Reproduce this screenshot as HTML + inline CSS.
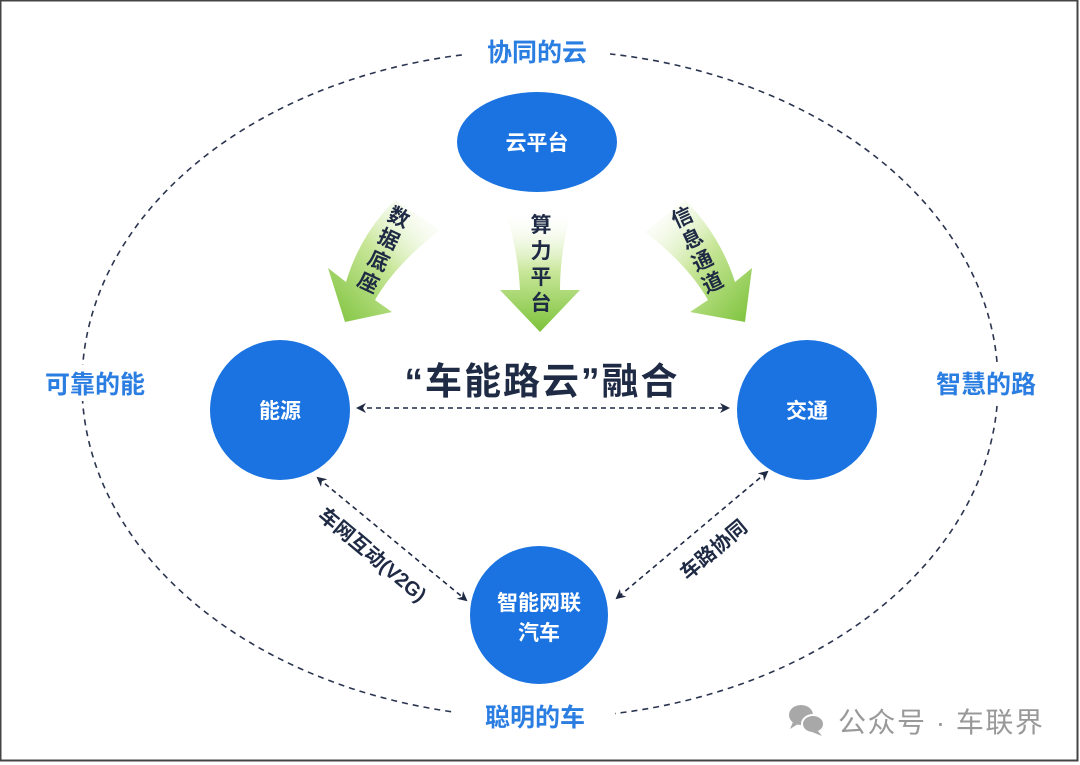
<!DOCTYPE html>
<html><head><meta charset="utf-8"><style>
html,body{margin:0;padding:0;background:#fff}
svg{display:block}
text{font-family:"Liberation Sans","Noto Sans CJK SC",sans-serif}
</style></head><body>
<svg width="1080" height="765" viewBox="0 0 1080 765" xmlns="http://www.w3.org/2000/svg">
<defs>
<linearGradient id="g1" x1="0" y1="0" x2="0" y2="1">
<stop offset="0" stop-color="#ffffff" stop-opacity="0"/><stop offset="0.5" stop-color="#c9e79a"/><stop offset="1" stop-color="#7cc23a"/></linearGradient>
<linearGradient id="gl" x1="1" y1="0" x2="0" y2="1">
<stop offset="0" stop-color="#ffffff" stop-opacity="0"/><stop offset="0.5" stop-color="#c9e79a"/><stop offset="1" stop-color="#7cc23a"/></linearGradient>
<linearGradient id="gr" x1="0" y1="0" x2="1" y2="1">
<stop offset="0" stop-color="#ffffff" stop-opacity="0"/><stop offset="0.5" stop-color="#c9e79a"/><stop offset="1" stop-color="#7cc23a"/></linearGradient>
<marker id="ah" markerWidth="10" markerHeight="10" refX="8" refY="5" orient="auto" markerUnits="userSpaceOnUse"><path d="M0,0 L10,5 L0,10 L3,5 Z" fill="#1f2a44"/></marker>
<marker id="as" markerWidth="10" markerHeight="10" refX="2" refY="5" orient="auto" markerUnits="userSpaceOnUse"><path d="M10,0 L0,5 L10,10 L7,5 Z" fill="#1f2a44"/></marker>
</defs>
<rect x="0.5" y="0.5" width="1077" height="760" fill="#fff" stroke="#444" stroke-width="2"/>
<ellipse cx="540" cy="384" rx="458" ry="334" fill="none" stroke="#2b3550" stroke-width="1.6" stroke-dasharray="6,5"/>
<rect x="462" y="35" width="148" height="34" fill="#fff"/>
<rect x="455" y="700" width="160" height="34" fill="#fff"/>
<rect x="30" y="365" width="130" height="36" fill="#fff"/>
<rect x="920" y="365" width="135" height="36" fill="#fff"/>
<g fill="#2a7de1" font-weight="bold" font-size="25" text-anchor="middle">
<text x="537" y="61">协同的云</text>
<text x="535" y="726">聪明的车</text>
<text x="95" y="393">可靠的能</text>
<text x="986" y="393">智慧的路</text>
</g>
<path d="M395,200 L440,230 Q395,265 375,300 L392,312 L345,322 L328,268 L346,282 Q360,235 395,200 Z" fill="url(#gl)"/>
<path d="M505,210 L572,210 Q560,250 560,290 L580,290 L540,332 L500,290 L520,290 Q518,250 505,210 Z" fill="url(#g1)"/>
<path d="M685,200 Q720,235 735,282 L752,268 L745,322 L690,312 L708,300 Q688,265 645,232 Z" fill="url(#gr)"/>
<g fill="#1f2a44" font-size="21" font-weight="bold" text-anchor="middle">
<g transform="translate(378,262) rotate(25)"><text y="-42">数</text><text y="-18">据</text><text y="6">底</text><text y="30">座</text></g>
<text x="541" y="232">算</text><text x="541" y="258">力</text><text x="541" y="284">平</text><text x="541" y="310">台</text>
<g transform="translate(703,262) rotate(-25)"><text y="-42">信</text><text y="-18">息</text><text y="6">通</text><text y="30">道</text></g>
</g>
<ellipse cx="537" cy="142" rx="80" ry="50" fill="#1a73e0"/>
<circle cx="280" cy="410" r="70" fill="#1a73e0"/>
<circle cx="807" cy="410" r="70" fill="#1a73e0"/>
<circle cx="539" cy="615" r="69" fill="#1a73e0"/>
<g fill="#fff" font-size="21" font-weight="bold" text-anchor="middle">
<text x="537" y="150">云平台</text>
<text x="280" y="418">能源</text>
<text x="807" y="418">交通</text>
<text x="539" y="610">智能网联</text>
<text x="539" y="640">汽车</text>
</g>
<text x="542" y="394" font-size="37" font-weight="bold" fill="#1f2a44" text-anchor="middle" letter-spacing="2">“车能路云”融合</text>
<g stroke="#1f2a44" stroke-width="1.6" stroke-dasharray="5,4" fill="none">
<line x1="358" y1="408" x2="728" y2="408" marker-start="url(#as)" marker-end="url(#ah)"/>
<line x1="318" y1="478" x2="466" y2="600" marker-start="url(#as)" marker-end="url(#ah)"/>
<line x1="767" y1="472" x2="617" y2="598" marker-start="url(#as)" marker-end="url(#ah)"/>
</g>
<text transform="translate(368,560) rotate(40)" font-size="20" font-weight="bold" fill="#1f2a44" text-anchor="middle">车网互动(V2G)</text>
<text transform="translate(718,555) rotate(-40)" font-size="20" font-weight="bold" fill="#1f2a44" text-anchor="middle">车路协同</text>
<g fill="#a8a8a8">
<ellipse cx="801" cy="715" rx="12" ry="10"/><path d="M793,722 L790,729 L798,724 Z"/>
<ellipse cx="813" cy="724" rx="11" ry="9" stroke="#fff" stroke-width="2"/><path d="M818,731 L822,736 L812,732 Z"/>
</g>
<text x="838" y="732" font-size="28" fill="#999" letter-spacing="1.5">公众号 · 车联界</text>
</svg>
</body></html>
